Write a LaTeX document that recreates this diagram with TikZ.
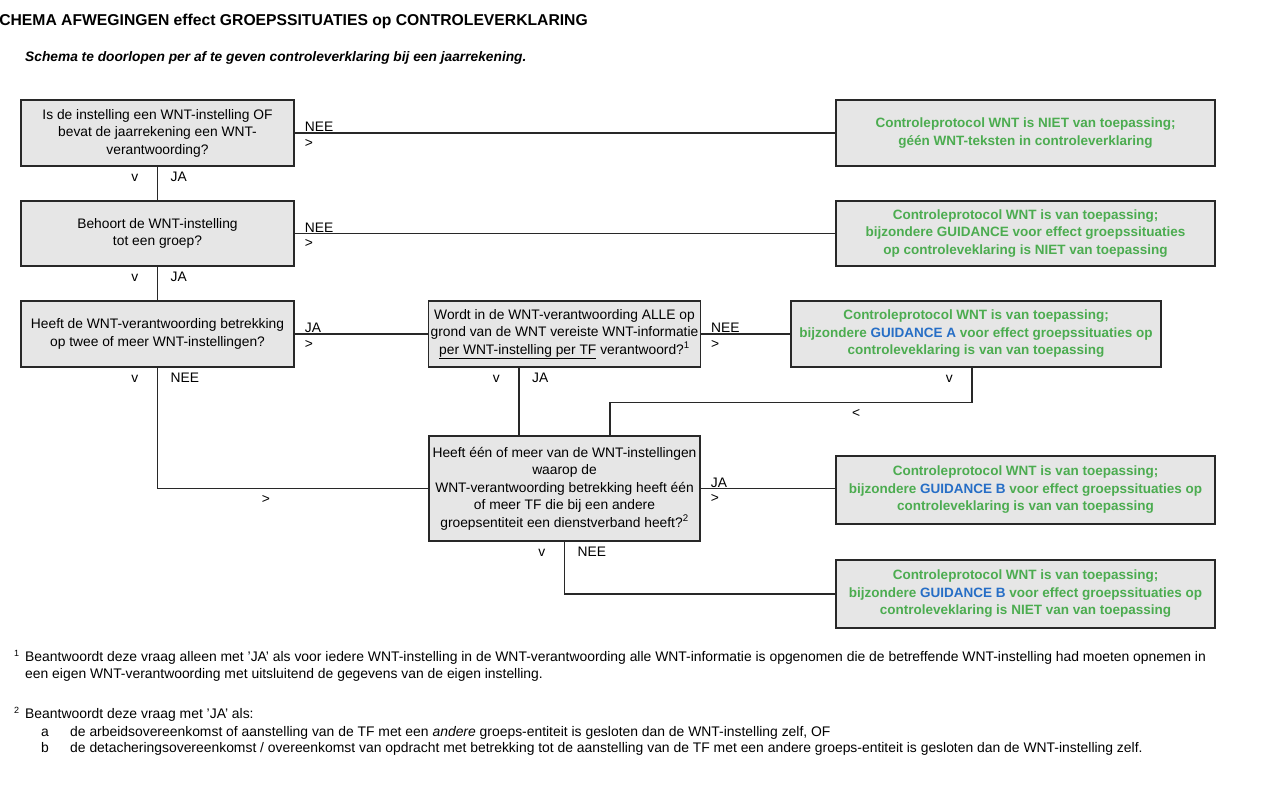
\documentclass[tikz,border=0pt]{standalone}
\usepackage{fontspec}
\setmainfont{Liberation Sans}
\usetikzlibrary{positioning,calc}
\definecolor{boxfill}{RGB}{230,230,230}
\definecolor{boxline}{RGB}{40,40,40}
\definecolor{wntgreen}{RGB}{76,172,80}
\definecolor{wntblue}{RGB}{38,110,198}
\newcommand{\wntfont}{\fontsize{13.8}{17.5}\selectfont}
\newcommand{\wntbold}{\fontsize{13.5}{17.5}\selectfont\bfseries}
\newcommand{\guide}[1]{\textcolor{wntblue}{#1}}

\begin{document}
\begin{tikzpicture}[x=1pt, y=-1pt,
    question/.style={draw=boxline, fill=boxfill, line width=1.4pt, align=center, font=\wntfont, inner sep=2pt},
    outcome/.style={question, font=\wntbold, text=wntgreen},
    lbl/.style={font=\wntfont, inner sep=1pt},
    note/.style={font=\fontsize{13.9}{16}\selectfont, inner sep=0, anchor=base west},
    conn/.style={line width=1.3pt, draw=boxline}
]
    \useasboundingbox (0,0) rectangle (1274,800);

    % Title
    \node[anchor=base east, inner sep=0, font=\bfseries\fontsize{15.7}{18}\selectfont] (title) at (588,25.5)
        {SCHEMA AFWEGINGEN effect GROEPSSITUATIES op CONTROLEVERKLARING};
    \node[anchor=base west, inner sep=0, font=\bfseries\itshape\fontsize{13.75}{16}\selectfont] (subtitle) at (25,62)
        {Schema te doorlopen per af te geven controleverklaring bij een jaarrekening.};

    % Questions
    \node[question, minimum width=273pt, minimum height=66pt] (q1) at (157.5,133)
        {Is de instelling een WNT-instelling OF\\bevat de jaarrekening een WNT-\\verantwoording?};
    \node[question, minimum width=273pt, minimum height=65pt] (q2) at (157.5,233.5)
        {Behoort de WNT-instelling\\tot een groep?};
    \node[question, minimum width=273pt, minimum height=66pt] (q3) at (157.5,334)
        {Heeft de WNT-verantwoording betrekking\\op twee of meer WNT-instellingen?};
    \node[question, minimum width=271pt, minimum height=66pt] (q4) at (564.5,334)
        {Wordt in de WNT-verantwoording ALLE op\\grond van de WNT vereiste WNT-informatie\\\underline{per WNT-instelling per TF} verantwoord?\textsuperscript{1}};
    \node[question, minimum width=271pt, minimum height=105pt] (q5) at (564.5,488.5)
        {Heeft één of meer van de WNT-instellingen\\waarop de\\WNT-verantwoording betrekking heeft één\\of meer TF die bij een andere\\groepsentiteit een dienstverband heeft?\textsuperscript{2}};

    % Outcomes
    \node[outcome, minimum width=379pt, minimum height=66pt] (r1) at (1025.5,133)
        {Controleprotocol WNT is NIET van toepassing;\\géén WNT-teksten in controleverklaring};
    \node[outcome, minimum width=379pt, minimum height=65pt] (r2) at (1025.5,233.5)
        {Controleprotocol WNT is van toepassing;\\bijzondere GUIDANCE voor effect groepssituaties\\op controleveklaring is NIET van toepassing};
    \node[outcome, minimum width=370pt, minimum height=66pt] (r3) at (976,334)
        {Controleprotocol WNT is van toepassing;\\bijzondere \guide{GUIDANCE A} voor effect groepssituaties op\\controleveklaring is van van toepassing};
    \node[outcome, minimum width=379pt, minimum height=68pt] (r4) at (1025.5,490)
        {Controleprotocol WNT is van toepassing;\\bijzondere \guide{GUIDANCE B} voor effect groepssituaties op\\controleveklaring is van van toepassing};
    \node[outcome, minimum width=379pt, minimum height=68pt] (r5) at (1025.5,594)
        {Controleprotocol WNT is van toepassing;\\bijzondere \guide{GUIDANCE B} voor effect groepssituaties op\\controleveklaring is NIET van van toepassing};

    % Connector points
    \coordinate (q4ja) at ($(q4.south)+(-45.5,0)$);
    \coordinate (q5in) at ($(q5.north)+(45.5,0)$);
    \coordinate (r3out) at ($(r3.south)+(-4,0)$);

    % Connectors
    \draw[conn] (q1.east) -- (r1.west);
    \draw[conn] (q1.south) -- (q2.north);
    \draw[conn] (q2.east) -- (r2.west);
    \draw[conn] (q2.south) -- (q3.north);
    \draw[conn] (q3.east) -- (q4.west);
    \draw[conn] (q4.east) -- (r3.west);
    \draw[conn] (q3.south) |- node[lbl, below=5pt, pos=0.7] {>} (q5.west);
    \draw[conn] (q4ja) -- (q4ja |- q5.north);
    \draw[conn] (r3out) -- ++(0,35) -| node[lbl, below=5pt, pos=0.16] {<} (q5in);
    \draw[conn] (q5.east) -- (q5.east -| r4.west);
    \draw[conn] (q5.south) |- (r5.west);

    % Labels on the right
    \foreach \n/\t in {q1/NEE, q2/NEE, q3/JA, q4/NEE, q5/JA} {
        \node[lbl, above right=0pt and 9pt of \n.east] {\t};
        \node[lbl, below right=5pt and 9pt of \n.east] {>};
    }

    % Labels below
    \foreach \n/\t in {q1.south/JA, q2.south/JA, q3.south/NEE, q4ja/JA, q5.south/NEE} {
        \node[lbl, below left=6pt and 18pt of \n] {v};
        \node[lbl, below right=4pt and 12pt of \n] {\t};
    }
    \node[lbl, below left=6pt and 18pt of r3out] {v};

    % Footnotes
    \node[note, font=\fontsize{9}{10}\selectfont] (fn1mark) at (14,656) {1};
    \node[note] (fn1a) at (25,661) {Beantwoordt deze vraag alleen met 'JA' als voor iedere WNT-instelling in de WNT-verantwoording alle WNT-informatie is opgenomen die de betreffende WNT-instelling had moeten opnemen in};
    \node[note] (fn1b) at (25,678) {een eigen WNT-verantwoording met uitsluitend de gegevens van de eigen instelling.};
    \node[note, font=\fontsize{9}{10}\selectfont] (fn2mark) at (14,713) {2};
    \node[note] (fn2a) at (25,718) {Beantwoordt deze vraag met 'JA' als:};
    \node[note] (fn2b) at (41,736) {a};
    \node[note] (fn2c) at (70,736) {de arbeidsovereenkomst of aanstelling van de TF met een \textit{andere} groeps-entiteit is gesloten dan de WNT-instelling zelf, OF};
    \node[note] (fn2d) at (41,752) {b};
    \node[note] (fn2e) at (70,752) {de detacheringsovereenkomst / overeenkomst van opdracht met betrekking tot de aanstelling van de TF met een andere groeps-entiteit is gesloten dan de WNT-instelling zelf.};
\end{tikzpicture}
\end{document}
